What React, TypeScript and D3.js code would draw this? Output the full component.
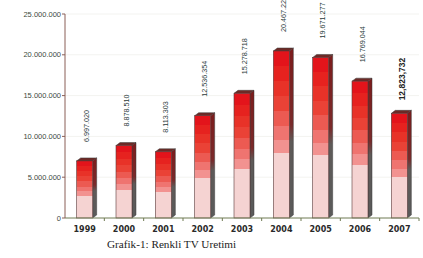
import * as d3 from "d3";
import React from "react";

const years = ["1999", "2000", "2001", "2002", "2003", "2004", "2005", "2006", "2007"];
const production = [6997020, 8878510, 8113303, 12536354, 15278718, 20467227, 19671277, 16769044, 12823732];
const valueLabels = ["6.997.020", "8.878.510", "8.113.303", "12.536.354", "15.278.718", "20.467.227", "19.671.277", "16.769.044", "12,823,732"];
const yTicks = [0, 5000000, 10000000, 15000000, 20000000, 25000000];
const yTickLabels = ["0", "5.000.000", "10.000.000", "15.000.000", "20.000.000", "25.000.000"];
const caption = "Grafik-1: Renkli TV Uretimi";

// stepped colours of the bar front, top to bottom
const frontSteps = ["#e3141b", "#e6221f", "#e83228", "#ea4236", "#ec5a52", "#ef7470", "#f29290", "#f5d3d2"];
const frontStops = [0, 0.09, 0.18, 0.27, 0.36, 0.45, 0.53, 0.61, 1];

export default function App() {
  const width = 423;
  const height = 258;
  const left = 65, right = 419, top = 14, bottom = 218;

  const x = d3.scaleBand().domain(years).range([left, right]);
  const y = d3.scaleLinear().domain([0, 25000000]).range([bottom, top]);

  const barW = 16;
  const depthX = 4;
  const depthY = 3;

  return (
    <svg width={width} height={height} style={{ position: "absolute", left: 0, top: 0, background: "#fff" }}>
      <defs>
        <linearGradient id="front" x1="0" y1="0" x2="0" y2="1">
          {frontSteps.map((c, i) => (
            <React.Fragment key={i}>
              <stop offset={frontStops[i]} stopColor={c} />
              <stop offset={frontStops[i + 1]} stopColor={c} />
            </React.Fragment>
          ))}
        </linearGradient>
        <linearGradient id="side" x1="0" y1="0" x2="0" y2="1">
          <stop offset="0" stopColor="#7c1c1c" />
          <stop offset="0.45" stopColor="#7a2a2a" />
          <stop offset="0.55" stopColor="#5e5a58" />
          <stop offset="1" stopColor="#5a5a5a" />
        </linearGradient>
      </defs>

      {/* faint gridlines */}
      {yTicks.slice(1).map((t) => (
        <line key={t} x1={left} x2={right} y1={y(t)} y2={y(t)} stroke="#f3f3f0" strokeWidth={1} />
      ))}

      {/* bars */}
      {production.map((v, i) => {
        const cx = x(years[i])! + x.bandwidth() / 2;
        const x0 = cx - barW / 2;
        const yt = y(v);
        const h = bottom - yt;
        return (
          <g key={years[i]}>
            <polygon
              points={`${x0 + barW},${yt} ${x0 + barW + depthX},${yt - depthY} ${x0 + barW + depthX},${bottom - depthY} ${x0 + barW},${bottom}`}
              fill="url(#side)"
              stroke="#3a3a3a"
              strokeWidth={0.5}
            />
            <polygon
              points={`${x0},${yt} ${x0 + depthX},${yt - depthY} ${x0 + barW + depthX},${yt - depthY} ${x0 + barW},${yt}`}
              fill="#6e2a26"
              stroke="#3a3a3a"
              strokeWidth={0.5}
            />
            <rect x={x0} y={yt} width={barW} height={h} fill="url(#front)" stroke="#5a3a3a" strokeWidth={0.6} />
          </g>
        );
      })}

      {/* value labels */}
      {production.map((v, i) => {
        const cx = x(years[i])! + x.bandwidth() / 2;
        const yt = y(v);
        const last = i === production.length - 1;
        return last ? (
          <text
            key={i}
            transform={`translate(${cx + 6},${yt - 13}) rotate(-90)`}
            fontFamily="Liberation Sans, Arial, sans-serif"
            fontSize={8.5}
            fontWeight="bold"
            fill="#222"
          >
            {valueLabels[i]}
          </text>
        ) : (
          <text
            key={i}
            transform={`translate(${cx + 4.5},${yt - 19}) rotate(-90)`}
            fontFamily="Liberation Sans, Arial, sans-serif"
            fontSize={7.2}
            fill="#2a3a3a"
          >
            {valueLabels[i]}
          </text>
        );
      })}

      {/* y axis */}
      <line x1={left} x2={left} y1={top} y2={bottom} stroke="#8a5e56" strokeWidth={1} />
      {yTicks.map((t, i) => (
        <g key={t}>
          <line x1={left - 3} x2={left} y1={y(t)} y2={y(t)} stroke="#8a5e56" strokeWidth={1} />
          <text
            x={left - 4}
            y={y(t)}
            dy="0.35em"
            textAnchor="end"
            fontFamily="Liberation Sans, Arial, sans-serif"
            fontSize={7.5}
            fill="#3d4a40"
          >
            {yTickLabels[i]}
          </text>
        </g>
      ))}

      {/* x axis */}
      <line x1={left} x2={right} y1={bottom} y2={bottom} stroke="#6f7a52" strokeWidth={1} />
      {years.map((yr) => (
        <line key={"t" + yr} x1={x(yr)! + x.bandwidth()} x2={x(yr)! + x.bandwidth()} y1={bottom} y2={bottom + 3} stroke="#6f7a52" strokeWidth={1} />
      ))}
      {years.map((yr) => (
        <text
          key={yr}
          x={x(yr)! + x.bandwidth() / 2}
          y={bottom + 14}
          textAnchor="middle"
          fontFamily="DejaVu Sans, Verdana, sans-serif"
          fontSize={8}
          fontWeight="bold"
          fill="#2a2a2a"
        >
          {yr}
        </text>
      ))}

      <text x={107} y={248} fontFamily="Liberation Serif, Times New Roman, serif" fontSize={11.2} fill="#222">
        {caption}
      </text>
    </svg>
  );
}
